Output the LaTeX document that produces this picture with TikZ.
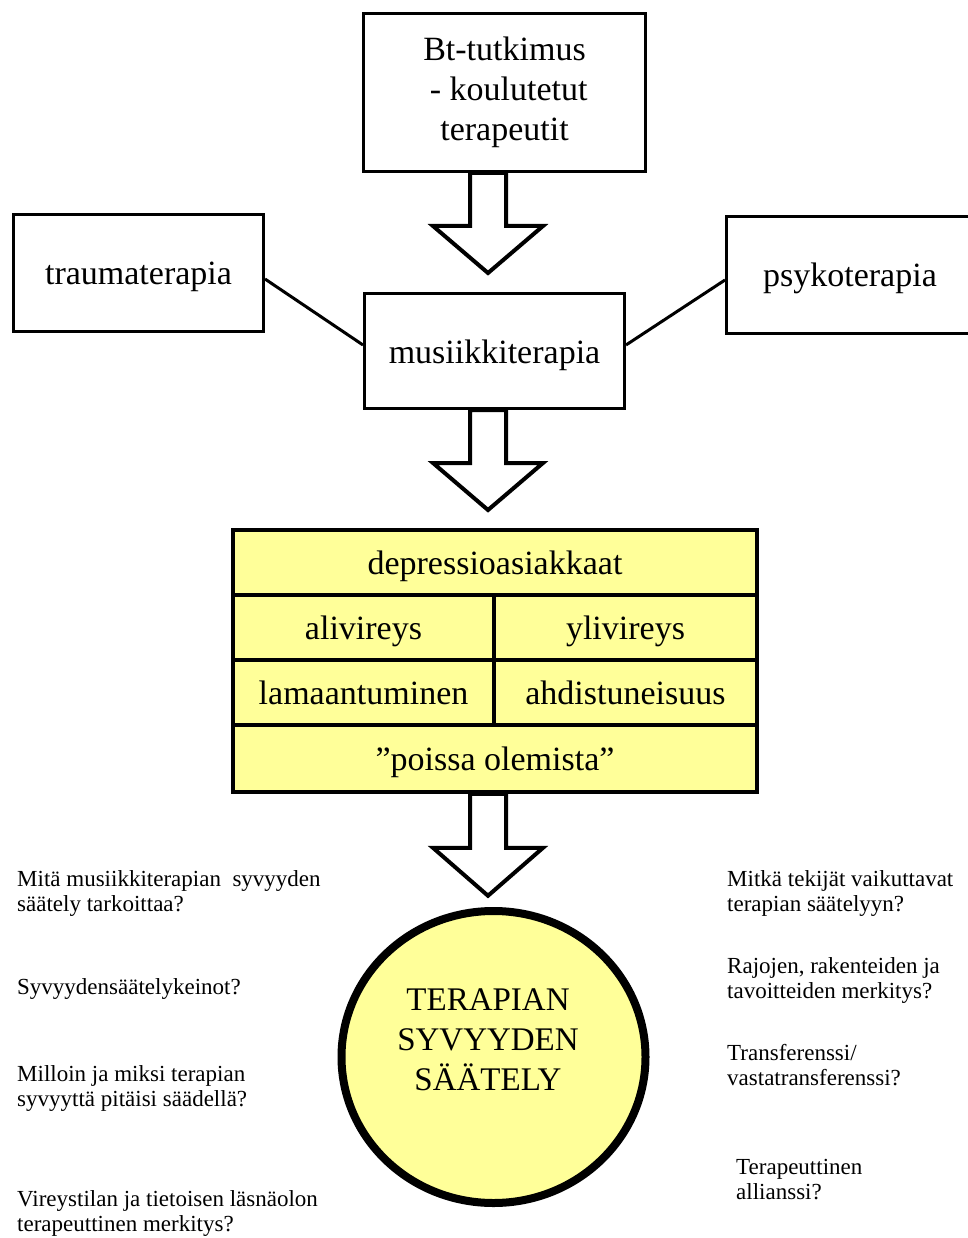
\documentclass[tikz,border=0pt]{standalone}
\usepackage{fontspec}
\setmainfont{Liberation Serif}
\usepackage{xcolor}
\definecolor{mkeltainen}{HTML}{FFFF99}
\usepackage{tikz}
\usetikzlibrary{calc,shapes.geometric}

\begin{document}
\begin{tikzpicture}[x=1pt,y=-1pt]
	\tikzset{
		laatikko/.style={draw,line width=3pt,inner sep=0pt,align=center,font=\fontsize{34}{40}\selectfont},
		yksirivi/.style={laatikko,text height=29pt,text depth=5pt},
		solu/.style={yksirivi,fill=mkeltainen,line width=3.5pt},
		kysymys/.style={anchor=north west,inner sep=0pt,align=left,font=\fontsize{23}{25.5}\selectfont},
		nuoli/.pic={
			\draw[line width=4pt,miter limit=10,fill=white,pic actions] (-18,0)--(-18,53)--(-55,53)--(0,100)--(55,53)--(18,53)--(18,0)--cycle;
		}
	}
	\useasboundingbox (0,0) rectangle (967,1238);
	%%%Ylarivi
	\path (504.5,92.5) node[laatikko,minimum width=282,minimum height=158] (bt) {Bt-tutkimus\\~- koulutetut\\terapeutit};
	\path (138.5,273) node[yksirivi,minimum width=250,minimum height=117] (trauma) {traumaterapia};
	\path (850,275) node[yksirivi,minimum width=247,minimum height=117] (psyko) {psykoterapia};
	\path (494.5,351) node[yksirivi,minimum width=260,minimum height=115] (musiikki) {musiikkiterapia};
	\draw[line width=3pt] ([yshift=-6pt]trauma.east) -- ([yshift=6pt]musiikki.west);
	\draw[line width=3pt] ([yshift=6pt]musiikki.east) -- ([yshift=-5pt]psyko.west);
	%%%Taulukko
	\path (495,562.5) node[solu,minimum width=524,minimum height=65] (depressio) {depressioasiakkaat};
	\path (363.5,627.5) node[solu,minimum width=261,minimum height=65] (ali) {alivireys};
	\path (625.5,627.5) node[solu,minimum width=263,minimum height=65] (yli) {ylivireys};
	\path (363.5,692.5) node[solu,minimum width=261,minimum height=65] (lama) {lamaantuminen};
	\path (625.5,692.5) node[solu,minimum width=263,minimum height=65] (ahdistus) {ahdistuneisuus};
	\path (495,758.5) node[solu,minimum width=524,minimum height=67] (poissa) {”poissa olemista”};
	%%%Ympyra
	\path (493.5,1057) node[ellipse,draw,fill=mkeltainen,line width=8pt,minimum width=304,minimum height=292] (saately) {};
	\path (488,1040) node[align=center,inner sep=0pt,font=\fontsize{33}{40}\selectfont] (saatelyteksti) {TERAPIAN\\SYVYYDEN\\SÄÄTELY};
	%%%Nuolet
	\path ([xshift=-16.5pt]bt.south) pic {nuoli};
	\path ([xshift=-6.5pt]musiikki.south) pic {nuoli};
	\path ([xshift=-7pt]poissa.south) pic[yscale=1.02] {nuoli};
	%%%Kysymykset vasemmalla
	\path (17,870) node[kysymys] (k1) {Mitä musiikkiterapian~ syvyyden\\säätely tarkoittaa?};
	\path (17,978) node[kysymys] (k2) {Syvyydensäätelykeinot?};
	\path (17,1065) node[kysymys] (k3) {Milloin ja miksi terapian\\syvyyttä pitäisi säädellä?};
	\path (17,1190) node[kysymys] (k4) {Vireystilan ja tietoisen läsnäolon\\terapeuttinen merkitys?};
	%%%Kysymykset oikealla
	\path (727,870) node[kysymys] (k5) {Mitkä tekijät vaikuttavat\\terapian säätelyyn?};
	\path (727,957) node[kysymys] (k6) {Rajojen, rakenteiden ja\\tavoitteiden merkitys?};
	\path (727,1044) node[kysymys] (k7) {Transferenssi/\\vastatransferenssi?};
	\path (736,1159) node[kysymys] (k8) {Terapeuttinen\\allianssi?};
\end{tikzpicture}
\end{document}
